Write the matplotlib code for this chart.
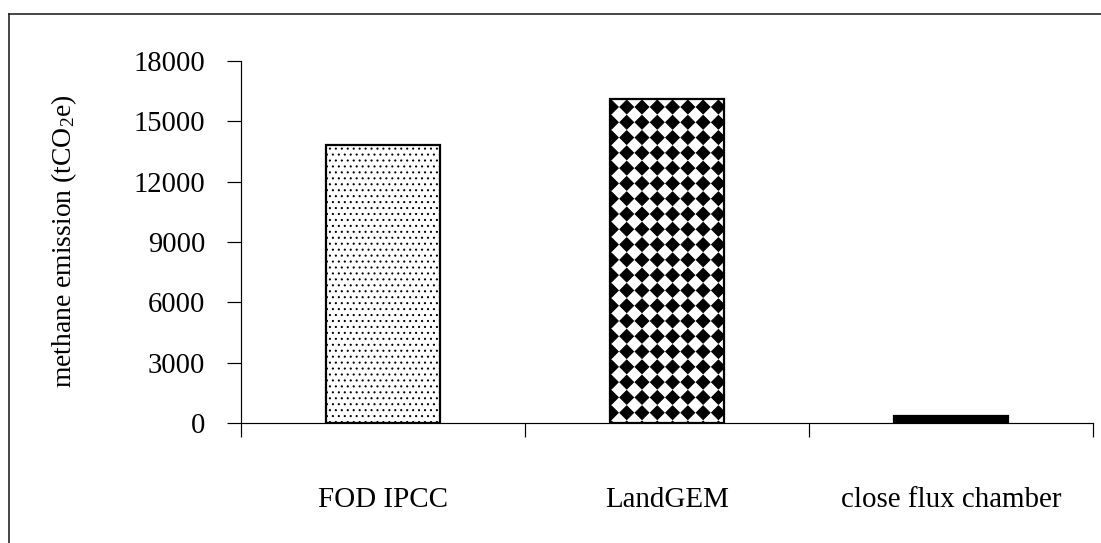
import numpy as np
import matplotlib
matplotlib.use("Agg")
import matplotlib.pyplot as plt
from matplotlib import hatch as mhatch
from matplotlib.path import Path
from matplotlib.lines import Line2D

# Data
categories = ["FOD IPCC", "LandGEM", "close flux chamber"]
emissions = [13800, 16100, 350]
yticks = [0, 3000, 6000, 9000, 12000, 15000, 18000]


class DiamondGrid(mhatch.HatchPatternBase):
    """Filled diamonds on an aligned square grid, bound to the '*' hatch."""

    def __init__(self, hatch, density):
        n = hatch.count('*')
        self.num_rows = n * (density + 1) if n else 0
        self.num_vertices = (self.num_rows + 1) ** 2 * 5 if n else 0

    def set_vertices_and_codes(self, vertices, codes):
        step = 1.0 / self.num_rows
        r = 0.45 * step
        shape = np.array([[0, -r], [r, 0], [0, r], [-r, 0], [0, -r]])
        shape_codes = np.array([Path.MOVETO, Path.LINETO, Path.LINETO,
                                Path.LINETO, Path.CLOSEPOLY])
        vparts, cparts = [], []
        for i in range(self.num_rows + 1):
            for j in range(self.num_rows + 1):
                vparts.append(shape + [i * step, j * step])
                cparts.append(shape_codes)
        np.concatenate(vparts, out=vertices)
        np.concatenate(cparts, out=codes)


mhatch._hatch_types = [DiamondGrid if t is mhatch.Stars else t
                       for t in mhatch._hatch_types]

DPI = 107
plt.rcParams['font.family'] = ['Liberation Serif', 'DejaVu Serif']
plt.rcParams['mathtext.fontset'] = 'custom'
plt.rcParams['mathtext.rm'] = 'Liberation Serif'
plt.rcParams['mathtext.default'] = 'regular'
plt.rcParams['hatch.linewidth'] = 0.65

fig = plt.figure(figsize=(1101 / DPI, 543 / DPI), dpi=DPI)
ax = fig.add_axes([241 / 1101, 1 - 423 / 543, 852 / 1101, 362 / 543])

x = np.arange(len(categories))
hatches = ['...', '*', None]
faces = ['white', 'white', 'black']
for xi, val, h, fc in zip(x, emissions, hatches, faces):
    ax.bar(xi, val, width=0.40, facecolor=fc, edgecolor='black',
           linewidth=1.5, hatch=h, zorder=2)

ax.set_xlim(-0.5, len(categories) - 0.5)
ax.set_ylim(0, 18000)
ax.set_yticks(yticks)
ax.set_yticklabels([str(v) for v in yticks])

ax.set_xticks(x)
ax.set_xticklabels(categories)
ax.set_xticks(np.arange(len(categories) + 1) - 0.5, minor=True)
ax.tick_params(axis='x', which='major', length=0, pad=43, labelsize=19.5)
ax.tick_params(axis='x', which='minor', direction='out', length=9.4,
               width=0.8, color='black')
ax.tick_params(axis='y', direction='out', length=9.4, width=0.8,
               pad=14.8, labelsize=19.3)

for side in ['top', 'right']:
    ax.spines[side].set_visible(False)
for side in ['left', 'bottom']:
    ax.spines[side].set_linewidth(0.8)

ax.set_ylabel('methane emission (tCO$_2$e)', fontsize=18.6)
ax.yaxis.set_label_coords(-0.190, 0.503)

# Frame lines at the left and top of the figure
fig.add_artist(Line2D([8.5 / 1101, 8.5 / 1101], [0, 1 - 13.5 / 543],
                      transform=fig.transFigure, color='#222222', lw=1.1))
fig.add_artist(Line2D([8.5 / 1101, 1], [1 - 13.5 / 543, 1 - 13.5 / 543],
                      transform=fig.transFigure, color='#222222', lw=1.1))

fig.savefig('out.png', dpi=DPI, facecolor='white')
